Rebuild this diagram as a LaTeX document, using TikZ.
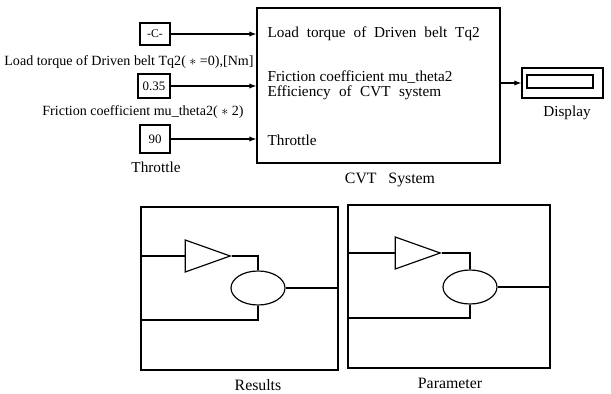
\documentclass[tikz,border=0pt]{standalone}
\usepackage{fontspec}
\setmainfont{Liberation Serif}
\usetikzlibrary{shapes.geometric,arrows.meta}
\begin{document}
\begin{tikzpicture}[x=0.03cm,y=-0.03cm,line width=1pt,
  blk/.style={draw,rectangle,inner sep=0pt},
  txt/.style={font=\fontsize{13}{15}\selectfont,inner sep=0pt},
  small/.style={font=\fontsize{12}{14}\selectfont,inner sep=0pt},
  sig/.style={-{Latex[length=6pt,width=4.5pt]}},
  amp/.style={draw,isosceles triangle,isosceles triangle stretches,shape border rotate=0,minimum width=0.96cm,minimum height=1.35cm,inner sep=0pt},
  sum/.style={draw,ellipse,minimum width=1.62cm,minimum height=1.02cm,inner sep=0pt}]
\useasboundingbox (0,0) rectangle (611,394);
\node[blk,minimum width=0.9cm,minimum height=0.66cm,font=\fontsize{10}{12}\selectfont] (cload) at (155,34) {-C-};
\node[small] (lload) at (129,62) {Load torque of Driven belt Tq2( $\ast$ =0),[Nm]};
\node[blk,minimum width=0.96cm,minimum height=0.72cm,font=\fontsize{11}{13}\selectfont] (cfric) at (154,86) {0.35};
\node[small] (lfric) at (143,112) {Friction coefficient mu\_theta2( $\ast$ 2)};
\node[blk,minimum width=0.9cm,minimum height=0.84cm,font=\fontsize{11}{13}\selectfont] (cthr) at (155,139) {90};
\node[txt] (lthr) at (156,167) {Throttle};
\node[blk,minimum width=7.29cm,minimum height=4.65cm] (cvt) at (378.5,85.5) {};
\node[txt,anchor=west] (pload) at (267,34) {\spaceskip=0.52em Load torque of Driven belt Tq2};
\node[txt,anchor=west] (pfric) at (267,77) {Friction coefficient mu\_theta2};
\node[txt,anchor=west] (peff) at (267,93) {\spaceskip=0.55em Efficiency of CVT system};
\node[txt,anchor=west] (pthr) at (267,140) {Throttle};
\node[txt,font=\fontsize{13.5}{15}\selectfont] (lcvt) at (390,180) {CVT\ \ \ System};
\node[blk,minimum width=2.43cm,minimum height=0.9cm] (disp) at (562.5,83) {};
\node[blk,minimum width=1.98cm,minimum height=0.39cm] (dispin) at (560,81.5) {};
\node[txt] (ldisp) at (567,113) {Display};
\draw[sig] (cload.east) -- (cload.east -| cvt.west);
\draw[sig] (cfric.east) -- (cfric.east -| cvt.west);
\draw[sig] (cthr.east) -- (cthr.east -| cvt.west);
\draw[sig] (cvt.east |- disp.west) -- (disp.west);
\node[blk,minimum width=5.91cm,minimum height=4.89cm] (rbox) at (239.5,288.5) {};
\node[amp] (ramp) at (196.5,256) {};
\node[sum] (rsum) at (258,288) {};
\coordinate (rlow) at (141,320);
\draw (ramp.west -| rbox.west) -- (ramp.west);
\draw (ramp.apex) -| (rsum.north);
\draw (rsum.east) -- (rsum.east -| rbox.east);
\draw (rsum.south) |- (rlow);
\node[txt,font=\fontsize{13.5}{15}\selectfont] (lres) at (258,385) {Results};
\node[blk,minimum width=6.06cm,minimum height=4.89cm] (pbox) at (449,286.5) {};
\node[amp] (pamp) at (406.5,253) {};
\node[sum] (psum) at (470,287) {};
\coordinate (plow) at (348,318);
\draw (pamp.west -| pbox.west) -- (pamp.west);
\draw (pamp.apex) -| (psum.north);
\draw (psum.east) -- (psum.east -| pbox.east);
\draw (psum.south) |- (plow);
\node[txt,font=\fontsize{13.5}{15}\selectfont] (lpar) at (450,383) {Parameter};
\end{tikzpicture}
\end{document}
